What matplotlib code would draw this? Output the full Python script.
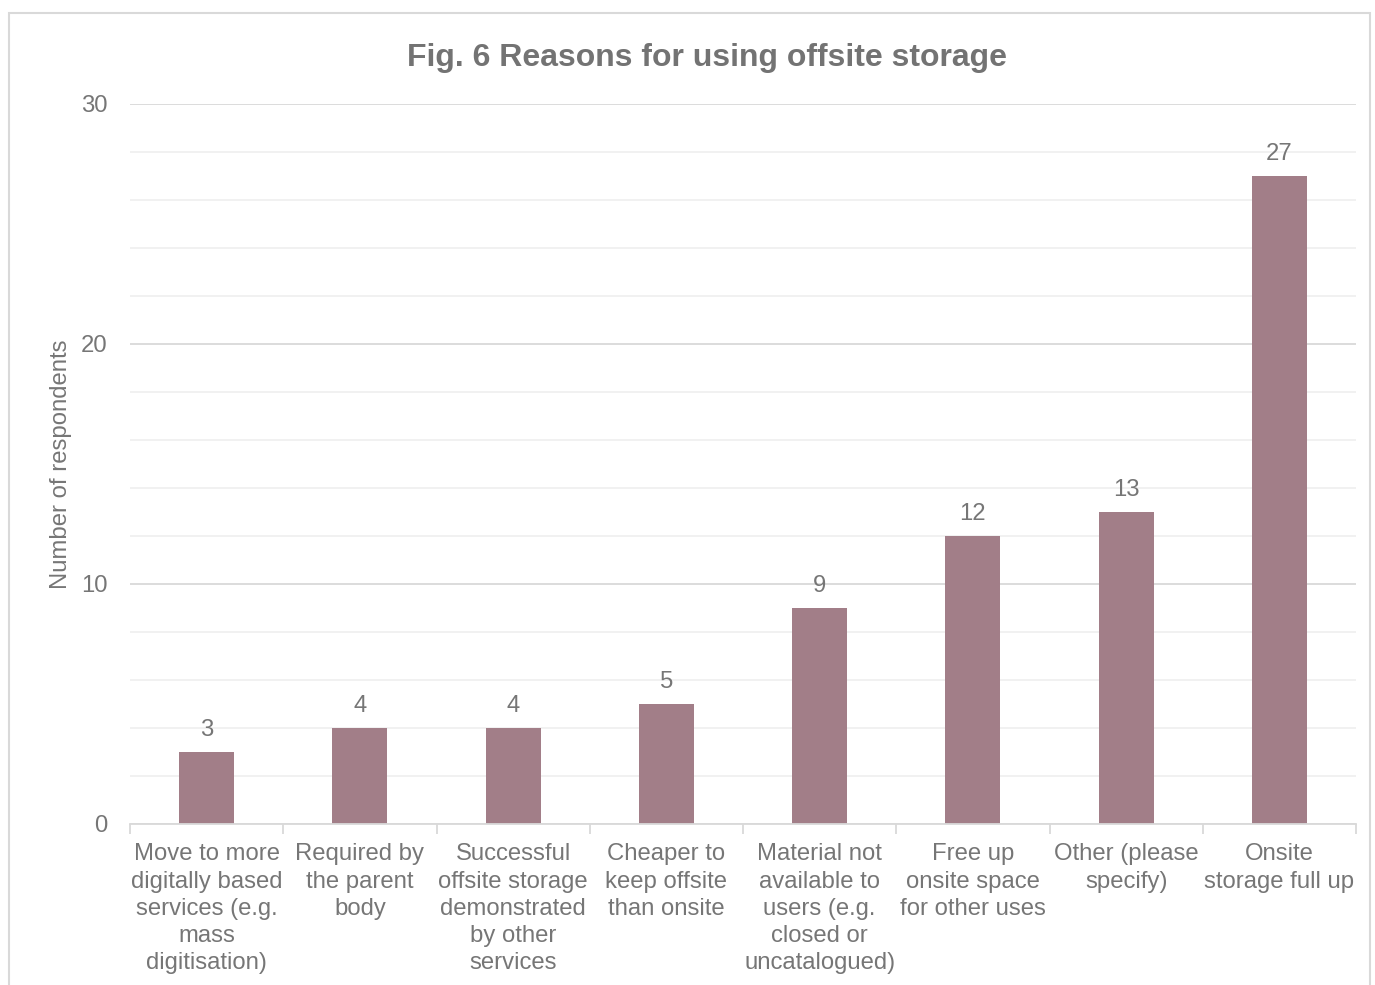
import matplotlib
matplotlib.use("Agg")
import matplotlib.pyplot as plt
from matplotlib.patches import Rectangle
from matplotlib.ticker import MultipleLocator

categories = [
    "Move to more\ndigitally based\nservices (e.g.\nmass\ndigitisation)",
    "Required by\nthe parent\nbody",
    "Successful\noffsite storage\ndemonstrated\nby other\nservices",
    "Cheaper to\nkeep offsite\nthan onsite",
    "Material not\navailable to\nusers (e.g.\nclosed or\nuncatalogued)",
    "Free up\nonsite space\nfor other uses",
    "Other (please\nspecify)",
    "Onsite\nstorage full up",
]
respondents = [3, 4, 4, 5, 9, 12, 13, 27]

title = "Fig. 6 Reasons for using offsite storage"
ylabel = "Number of respondents"

text_color = "#767676"
bar_color = "#A27E88"
fs = 17.2

plt.rcParams["font.family"] = ["Liberation Sans", "DejaVu Sans"]

W, H = 1375, 985
fig = plt.figure(figsize=(W / 100, H / 100), dpi=100)

# chart-area frame
fig.patches.append(Rectangle((9 / W, -0.05), (1370 - 9) / W, 1.05 - 13 / H,
                             transform=fig.transFigure, fill=False,
                             edgecolor="#D9D9D9", linewidth=1.5))

ax = fig.add_axes([130 / W, (H - 824) / H, (1356 - 130) / W, (824 - 104) / H])

x = range(len(categories))
bars = ax.bar(x, respondents, width=0.36, color=bar_color, zorder=3)
ax.set_xlim(-0.5, len(categories) - 0.5)
ax.set_ylim(0, 30)

ax.yaxis.set_major_locator(MultipleLocator(10))
ax.yaxis.set_minor_locator(MultipleLocator(2))
ax.grid(which="major", axis="y", color="#D9D9D9", linewidth=1.3, zorder=0)
ax.grid(which="minor", axis="y", color="#F0F0F0", linewidth=1.3, zorder=0)

for s in ["top", "right", "left"]:
    ax.spines[s].set_visible(False)
ax.spines["bottom"].set_color("#D9D9D9")
ax.spines["bottom"].set_linewidth(1.3)
ax.spines["bottom"].set_zorder(4)

ax.tick_params(axis="y", which="both", length=0, labelsize=fs,
               labelcolor=text_color, pad=16)
ax.set_yticks([0, 10, 20, 30])

# category labels centred on bars, tick marks between categories
ax.set_xticks(list(x))
ax.set_xticklabels(categories, fontsize=fs, color=text_color,
                   linespacing=1.3, va="top")
ax.tick_params(axis="x", which="major", length=0, pad=14)
ax.set_xticks([i - 0.5 for i in range(len(categories) + 1)], minor=True)
ax.tick_params(axis="x", which="minor", length=7, color="#D9D9D9", width=1.3)

ax.bar_label(bars, labels=[str(v) for v in respondents], padding=8,
             fontsize=fs, color=text_color)

ax.set_ylabel(ylabel, fontsize=fs, color=text_color)
ax.yaxis.set_label_coords(-58 / (1356 - 130), 0.5)

fig.text(0.5142, (H - 58) / H, title, ha="center", va="center",
         fontsize=23, fontweight="bold", color="#737373")

fig.savefig("out.png", dpi=100, facecolor="white")
